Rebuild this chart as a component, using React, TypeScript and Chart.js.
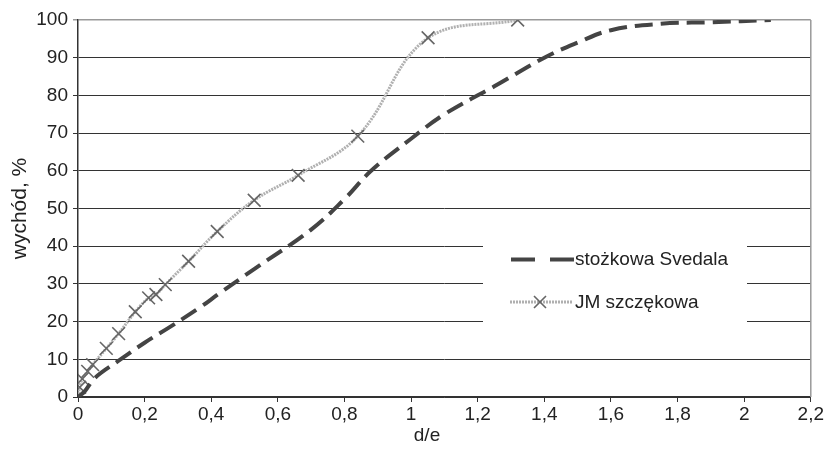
import React, { useEffect, useRef } from "react";
import { Chart, registerables } from "chart.js";

Chart.register(...registerables);

// stożkowa Svedala (dashed curve)
const svedalaX = [0, 0.02, 0.05, 0.12, 0.2, 0.28, 0.37, 0.42, 0.53, 0.7, 0.8, 0.88, 1.0, 1.1, 1.25, 1.4, 1.5, 1.6, 1.75, 1.9, 2.08];
const svedalaY = [0, 1.5, 5, 9.5, 14.4, 18.8, 24, 27.2, 34, 44.4, 52.5, 60, 68.5, 75, 82.4, 90, 94, 97.3, 99, 99.4, 100];

// JM szczękowa (dotted curve with markers)
const jmX = [0, 0.005, 0.013, 0.029, 0.044, 0.085, 0.122, 0.172, 0.212, 0.234, 0.262, 0.332, 0.418, 0.529, 0.661, 0.84, 1.051, 1.32];
const jmY = [0, 2.6, 4.8, 6.8, 8.6, 12.9, 16.8, 22.6, 26.3, 27.2, 29.8, 36, 43.9, 52.2, 58.8, 69.2, 95.3, 100];

const seriesNames = ["stożkowa Svedala", "JM szczękowa"];
const xTitle = "d/e";
const yTitle = "wychód, %";

const FONT = "'Liberation Sans', Arial, sans-serif";
const TEXT = "#222";

const fmt = (v: number) => String(Math.round(v * 10) / 10).replace(".", ",");

const boxLegend = {
  id: "boxLegend",
  afterDatasetsDraw(chart: any) {
    const ctx = chart.ctx as CanvasRenderingContext2D;
    ctx.save();
    ctx.fillStyle = "#fff";
    ctx.fillRect(483, 230, 264, 105);
    // Svedala sample
    ctx.strokeStyle = "#444";
    ctx.lineWidth = 4;
    ctx.setLineDash([24, 15]);
    ctx.beginPath();
    ctx.moveTo(511, 259.5);
    ctx.lineTo(574, 259.5);
    ctx.stroke();
    // JM sample
    ctx.setLineDash([2, 1]);
    ctx.strokeStyle = "#b0b0b0";
    ctx.lineWidth = 3;
    ctx.beginPath();
    ctx.moveTo(510, 302);
    ctx.lineTo(573, 302);
    ctx.stroke();
    ctx.setLineDash([]);
    ctx.strokeStyle = "#666";
    ctx.lineWidth = 1.6;
    const r = 6;
    ctx.beginPath();
    ctx.moveTo(540 - r, 302 - r);
    ctx.lineTo(540 + r, 302 + r);
    ctx.moveTo(540 - r, 302 + r);
    ctx.lineTo(540 + r, 302 - r);
    ctx.stroke();
    ctx.fillStyle = TEXT;
    ctx.font = `19px ${FONT}`;
    ctx.textBaseline = "middle";
    ctx.textAlign = "left";
    ctx.fillText(seriesNames[0], 575, 260);
    ctx.fillText(seriesNames[1], 575, 303);
    ctx.restore();
  },
};

const frame = {
  id: "frame",
  beforeDatasetsDraw(chart: any) {
    const { ctx, chartArea } = chart;
    ctx.save();
    ctx.strokeStyle = "#999";
    ctx.lineWidth = 1.5;
    ctx.beginPath();
    ctx.moveTo(chartArea.right, chartArea.top);
    ctx.lineTo(chartArea.right, chartArea.bottom);
    ctx.stroke();
    ctx.restore();
  },
  afterDraw(chart: any) {
    const ctx = chart.ctx as CanvasRenderingContext2D;
    ctx.save();
    ctx.fillStyle = TEXT;
    ctx.font = `19px ${FONT}`;
    ctx.textAlign = "center";
    ctx.textBaseline = "middle";
    ctx.fillText(xTitle, 427, 436);
    ctx.restore();
  },
};

export default function App() {
  const ref = useRef<HTMLCanvasElement>(null);
  useEffect(() => {
    if (!ref.current) return;
    const chart = new Chart(ref.current, {
      type: "line",
      data: {
        datasets: [
          {
            label: seriesNames[0],
            data: svedalaX.map((x, i) => ({ x, y: svedalaY[i] })),
            borderColor: "#444",
            borderWidth: 4,
            borderDash: [18, 8],
            pointRadius: 0,
            tension: 0.4,
            fill: false,
          },
          {
            label: seriesNames[1],
            data: jmX.map((x, i) => ({ x, y: jmY[i] })),
            borderColor: "#b0b0b0",
            borderWidth: 3,
            borderDash: [2, 1],
            pointStyle: "crossRot",
            pointRadius: 9,
            pointBorderColor: "#666",
            pointBorderWidth: 1.6,
            pointBackgroundColor: "#666",
            tension: 0.4,
            fill: false,
          },
        ],
      },
      options: {
        responsive: false,
        animation: false,
        layout: { padding: { top: 20, right: 13, left: 0, bottom: 0 } },
        plugins: {
          legend: { display: false },
          tooltip: { enabled: false },
        },
        scales: {
          x: {
            type: "linear",
            min: 0,
            max: 2.2,
            afterFit: (s: any) => {
              s.height = 52;
            },
            ticks: {
              stepSize: 0.2,
              color: TEXT,
              font: { family: FONT, size: 19 },
              padding: 1,
              maxRotation: 0,
              autoSkip: false,
              callback: (v: any) => fmt(Number(v)),
            },
            grid: { drawOnChartArea: false, drawTicks: true, tickLength: 5, color: "#333", lineWidth: 1 },
            border: { color: "#333", width: 1.5 },
            title: { display: false, text: xTitle },
          },
          y: {
            min: 0,
            max: 100,
            afterFit: (s: any) => {
              s.width = 78;
            },
            ticks: {
              stepSize: 10,
              color: TEXT,
              font: { family: FONT, size: 19 },
              padding: 5,
            },
            grid: {
              drawTicks: true,
              tickLength: 5,
              color: (c: any) => (c.tick && c.tick.value === 100 ? "#999" : "#333"),
              lineWidth: (c: any) => (c.tick && c.tick.value === 100 ? 1.5 : 1),
            },
            border: { color: "#333", width: 1.5 },
            title: {
              display: true,
              text: yTitle,
              color: TEXT,
              font: { family: FONT, size: 21 },
              padding: { top: 8, bottom: 0 },
            },
          },
        },
      },
      plugins: [frame, boxLegend],
    });
    return () => chart.destroy();
  }, []);
  return (
    <div style={{ position: "fixed", left: 0, top: 0, width: 825, height: 449, background: "#fff" }}>
      <canvas ref={ref} width={825} height={449} />
    </div>
  );
}
